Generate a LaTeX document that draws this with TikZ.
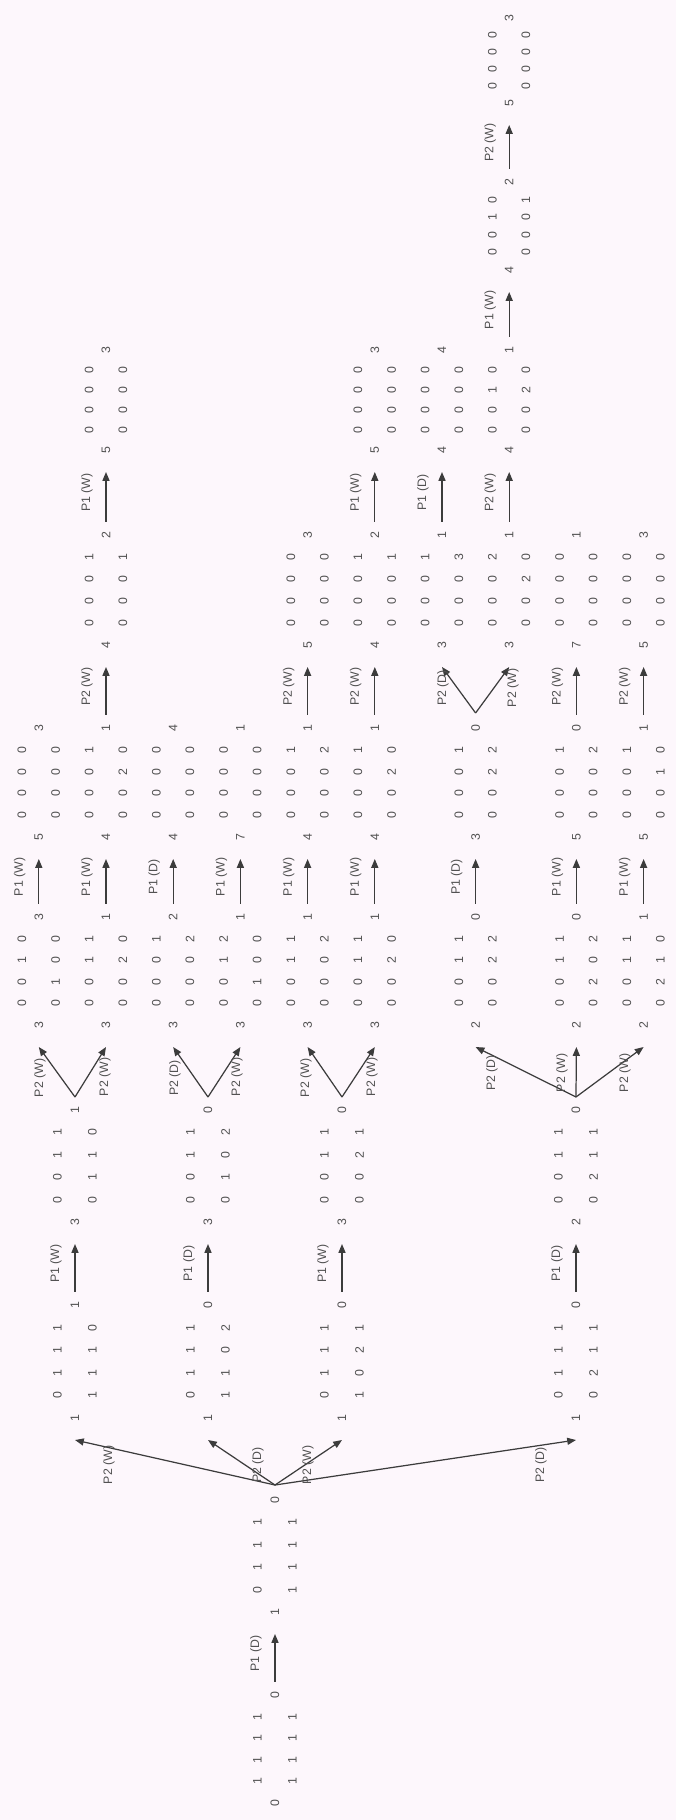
\documentclass[tikz,border=0pt]{standalone}
\usepackage{fontspec}
\setmainfont{Liberation Sans}
\usepackage{xcolor}
\usepackage{tikz}
\usetikzlibrary{arrows.meta,calc}
\definecolor{paper}{HTML}{FDF7FC}
\definecolor{ink}{HTML}{505050}
\definecolor{wire}{HTML}{3C3C3C}

\newcommand{\board}[9]{%
  \node (#1-b) at (#2,#3) {#6};
  \node (#1-t) at (#2,#4) {#7};
  \coordinate (#1-in) at ({#2},{#3+22});
  \foreach \pit [count=\i] in {#8}
    \node (#1-l\i) at ({#2-#5},{#3-(#3-#4)*\i/5}) {\pit};
  \foreach \pit [count=\i] in {#9}
    \node (#1-r\i) at ({#2+#5},{#3-(#3-#4)*\i/5}) {\pit};
}
\newcommand{\move}[3]{%
  \draw[arr,shorten <=4.5pt] (#1-t) -- (#2-in);
  \node (#2-lab) at ($(#1-t)!0.5!(#2-b)+(-19,0)$) {#3};
}

\begin{document}
\begin{tikzpicture}[x=0.02cm,y=-0.02cm,
    every node/.style={rotate=90,inner sep=1pt,text=ink,font=\fontsize{7}{8}\selectfont},
    arr/.style={draw=wire,line width=0.7pt,-{Triangle[length=5pt,width=4pt]}},
  ]
  \fill[paper] (0,0) rectangle (676,1820);
  \useasboundingbox (0,0) rectangle (676,1820);

  \board{r}{275}{1803}{1695}{17.5}{0}{0}{1,1,1,1}{1,1,1,1}
  \board{s}{275}{1612}{1500}{17.5}{1}{0}{0,1,1,1}{1,1,1,1}

  \board{a2}{75}{1418}{1305}{17.5}{1}{1}{0,1,1,1}{1,1,1,0}
  \board{b2}{208}{1418}{1305}{17.5}{1}{0}{0,1,1,1}{1,1,0,2}
  \board{c2}{342}{1418}{1305}{17.5}{1}{0}{0,1,1,1}{1,0,2,1}
  \board{d2}{576}{1418}{1305}{17.5}{1}{0}{0,1,1,1}{0,2,1,1}

  \board{a3}{75}{1222}{1110}{17.5}{3}{1}{0,0,1,1}{0,1,1,0}
  \board{b3}{208}{1222}{1110}{17.5}{3}{0}{0,0,1,1}{0,1,0,2}
  \board{c3}{342}{1222}{1110}{17.5}{3}{0}{0,0,1,1}{0,0,2,1}
  \board{d3}{576}{1222}{1110}{17.5}{2}{0}{0,0,1,1}{0,2,1,1}

  \board{p1}{38.8}{1025}{917}{16.8}{3}{3}{0,0,1,0}{0,1,0,0}
  \board{p2}{106}{1025}{917}{16.8}{3}{1}{0,0,1,1}{0,0,2,0}
  \board{p3}{173.2}{1025}{917}{16.8}{3}{2}{0,0,0,1}{0,0,0,2}
  \board{p4}{240.4}{1025}{917}{16.8}{3}{1}{0,0,1,2}{0,1,0,0}
  \board{p5}{307.6}{1025}{917}{16.8}{3}{1}{0,0,1,1}{0,0,0,2}
  \board{p6}{374.8}{1025}{917}{16.8}{3}{1}{0,0,1,1}{0,0,2,0}
  \board{p7}{475.6}{1025}{917}{16.8}{2}{0}{0,0,1,1}{0,0,2,2}
  \board{p8}{576.4}{1025}{917}{16.8}{2}{0}{0,0,1,1}{0,2,0,2}
  \board{p9}{643.6}{1025}{917}{16.8}{2}{1}{0,0,1,1}{0,2,1,0}

  \board{q1}{38.8}{837}{728}{16.8}{5}{3}{0,0,0,0}{0,0,0,0}
  \board{q2}{106}{837}{728}{16.8}{4}{1}{0,0,0,1}{0,0,2,0}
  \board{q3}{173.2}{837}{728}{16.8}{4}{4}{0,0,0,0}{0,0,0,0}
  \board{q4}{240.4}{837}{728}{16.8}{7}{1}{0,0,0,0}{0,0,0,0}
  \board{q5}{307.6}{837}{728}{16.8}{4}{1}{0,0,0,1}{0,0,0,2}
  \board{q6}{374.8}{837}{728}{16.8}{4}{1}{0,0,0,1}{0,0,2,0}
  \board{q7}{475.6}{837}{728}{16.8}{3}{0}{0,0,0,1}{0,0,2,2}
  \board{q8}{576.4}{837}{728}{16.8}{5}{0}{0,0,0,1}{0,0,0,2}
  \board{q9}{643.6}{837}{728}{16.8}{5}{1}{0,0,0,1}{0,0,1,0}

  \board{u2}{106}{645}{535}{16.8}{4}{2}{0,0,0,1}{0,0,0,1}
  \board{u5}{307.6}{645}{535}{16.8}{5}{3}{0,0,0,0}{0,0,0,0}
  \board{u6}{374.8}{645}{535}{16.8}{4}{2}{0,0,0,1}{0,0,0,1}
  \board{u7a}{442}{645}{535}{16.8}{3}{1}{0,0,0,1}{0,0,0,3}
  \board{u7b}{509.2}{645}{535}{16.8}{3}{1}{0,0,0,2}{0,0,2,0}
  \board{u8}{576.4}{645}{535}{16.8}{7}{1}{0,0,0,0}{0,0,0,0}
  \board{u9}{643.6}{645}{535}{16.8}{5}{3}{0,0,0,0}{0,0,0,0}

  \board{v2}{106}{450}{350}{16.8}{5}{3}{0,0,0,0}{0,0,0,0}
  \board{v6}{374.8}{450}{350}{16.8}{5}{3}{0,0,0,0}{0,0,0,0}
  \board{v7a}{442}{450}{350}{16.8}{4}{4}{0,0,0,0}{0,0,0,0}
  \board{v7b}{509.2}{450}{350}{16.8}{4}{1}{0,0,1,0}{0,0,2,0}

  \board{w}{509.2}{270}{182}{16.8}{4}{2}{0,0,1,0}{0,0,0,1}
  \board{z}{509.2}{103}{18}{16.8}{5}{3}{0,0,0,0}{0,0,0,0}

  \move{r}{s}{P1 (D)}

  \coordinate (s-fork) at (275,1485);
  \foreach \kid in {a2,b2,c2,d2}
    \draw[arr] (s-fork) -- (\kid-in);
  \node (s-m1) at (109,1465) {P2 (W)};
  \node (s-m2) at (258,1465) {P2 (D)};
  \node (s-m3) at (308,1465) {P2 (W)};
  \node (s-m4) at (541,1465) {P2 (D)};

  \move{a2}{a3}{P1 (W)}
  \move{b2}{b3}{P1 (D)}
  \move{c2}{c3}{P1 (W)}
  \move{d2}{d3}{P1 (D)}

  \coordinate (a3-fork) at (75,1097);
  \coordinate (b3-fork) at (208,1097);
  \coordinate (c3-fork) at (342,1097);
  \coordinate (d3-fork) at (576,1097);
  \draw[arr] (a3-fork) -- (p1-in);
  \draw[arr] (a3-fork) -- (p2-in);
  \draw[arr] (b3-fork) -- (p3-in);
  \draw[arr] (b3-fork) -- (p4-in);
  \draw[arr] (c3-fork) -- (p5-in);
  \draw[arr] (c3-fork) -- (p6-in);
  \draw[arr] (d3-fork) -- (p7-in);
  \draw[arr] (d3-fork) -- (p8-in);
  \draw[arr] (d3-fork) -- (p9-in);
  \node (a3-m1) at (40,1078) {P2 (W)};
  \node (a3-m2) at (105,1077) {P2 (W)};
  \node (b3-m1) at (175,1078) {P2 (D)};
  \node (b3-m2) at (237,1077) {P2 (W)};
  \node (c3-m1) at (306,1078) {P2 (W)};
  \node (c3-m2) at (372,1077) {P2 (W)};
  \node (d3-m1) at (492,1073) {P2 (D)};
  \node (d3-m2) at (562,1073) {P2 (W)};
  \node (d3-m3) at (625,1073) {P2 (W)};

  \move{p1}{q1}{P1 (W)}
  \move{p2}{q2}{P1 (W)}
  \move{p3}{q3}{P1 (D)}
  \move{p4}{q4}{P1 (W)}
  \move{p5}{q5}{P1 (W)}
  \move{p6}{q6}{P1 (W)}
  \move{p7}{q7}{P1 (D)}
  \move{p8}{q8}{P1 (W)}
  \move{p9}{q9}{P1 (W)}

  \move{q2}{u2}{P2 (W)}
  \move{q5}{u5}{P2 (W)}
  \move{q6}{u6}{P2 (W)}
  \move{q8}{u8}{P2 (W)}
  \move{q9}{u9}{P2 (W)}
  \coordinate (q7-fork) at (475.6,713);
  \draw[arr] (q7-fork) -- (u7a-in);
  \draw[arr] (q7-fork) -- (u7b-in);
  \node (q7-m1) at (443,688) {P2 (D)};
  \node (q7-m2) at (513,688) {P2 (W)};

  \move{u2}{v2}{P1 (W)}
  \move{u6}{v6}{P1 (W)}
  \move{u7a}{v7a}{P1 (D)}
  \move{u7b}{v7b}{P2 (W)}

  \move{v7b}{w}{P1 (W)}
  \move{w}{z}{P2 (W)}
\end{tikzpicture}
\end{document}
